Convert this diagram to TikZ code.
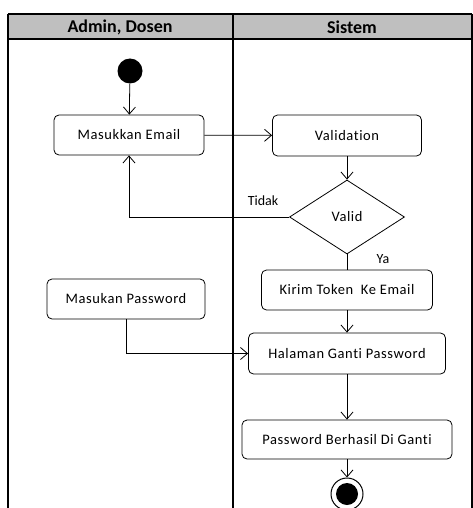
\documentclass[tikz,border=0pt]{standalone}
\usepackage{fontspec}
\setmainfont{Carlito}[Ligatures=NoCommon]
\usetikzlibrary{arrows.meta,shapes.geometric}
\tikzset{
  lane/.style={line width=1.6pt},
  action/.style={draw, line width=0.8pt, rounded corners=5pt, inner sep=0pt,
    font=\fontsize{14.5}{16}\selectfont\addfontfeature{LetterSpace=4}},
  decision/.style={draw, diamond, line width=0.8pt, inner sep=0pt,
    font=\fontsize{14.5}{16}\selectfont\addfontfeature{LetterSpace=4}},
  flow/.style={line width=0.8pt, -{Straight Barb[length=7pt,width=12pt,line width=0.8pt]}},
  plain/.style={line width=0.8pt},
  guard/.style={font=\fontsize{14}{16}\selectfont},
  head/.style={font=\bfseries\fontsize{18}{20}\selectfont}
}
\begin{document}
\begin{tikzpicture}[x=1pt,y=-1pt]
\useasboundingbox (0,0) rectangle (473,508);
\begin{scope}
\clip (0,0) rectangle (473,508);
% swimlane header
\fill[gray!50] (8,14) rectangle (472,39);
\draw[lane] (8,14) -- (472,14);
\draw[lane] (8,39) -- (472,39);
\draw[lane] (8,14) -- (8,510);
\draw[lane] (233,14) -- (233,510);
\draw[lane] (472,14) -- (472,510);
\node[head] (laneA) at (120,27) {Admin, Dosen};
\node[head] (laneB) at (352,27) {Sistem};

% activity nodes
\node[circle, fill=black, minimum size=25pt, inner sep=0pt] (start) at (130,71) {};
\node[action, minimum width=150pt, minimum height=40pt] (me) at (129,135) {Masukkan Email};
\node[action, minimum width=149pt, minimum height=41pt] (val) at (347,135.5) {Validation};
\node[decision, minimum width=115pt, minimum height=74pt] (dec) at (347,217) {Valid};
\node[action, minimum width=171pt, minimum height=40pt] (kt) at (347,290) {Kirim Token\ \ Ke Email};
\node[action, minimum width=158pt, minimum height=40pt] (mp) at (126,299) {Masukan Password};
\node[action, minimum width=197pt, minimum height=41pt] (hg) at (347,353.5) {Halaman Ganti Password};
\node[action, minimum width=210pt, minimum height=39pt] (pb) at (347,439.5) {Password Berhasil Di Ganti};
\node[circle, draw, line width=1pt, minimum size=32pt, inner sep=0pt] (end) at (347,494) {};
\node[circle, fill=black, minimum size=22pt, inner sep=0pt] (endin) at (end.center) {};

% flows
\draw[flow] (start) -- (me);
\draw[flow] (me) -- (val);
\draw[flow] (val) -- (dec);
\draw[flow] (dec.west) -| (me.south);
\draw[plain] (dec.south) -- (kt.north);
\draw[flow] (kt) -- (hg);
\draw[flow] (mp.south) |- (hg.west);
\draw[flow] (hg) -- (pb);
\draw[flow] (pb) -- (end);

% guards
\node[guard] (tidak) at (263,201) {Tidak};
\node[guard] (ya) at (383,259) {Ya};
\end{scope}
\end{tikzpicture}
\end{document}
